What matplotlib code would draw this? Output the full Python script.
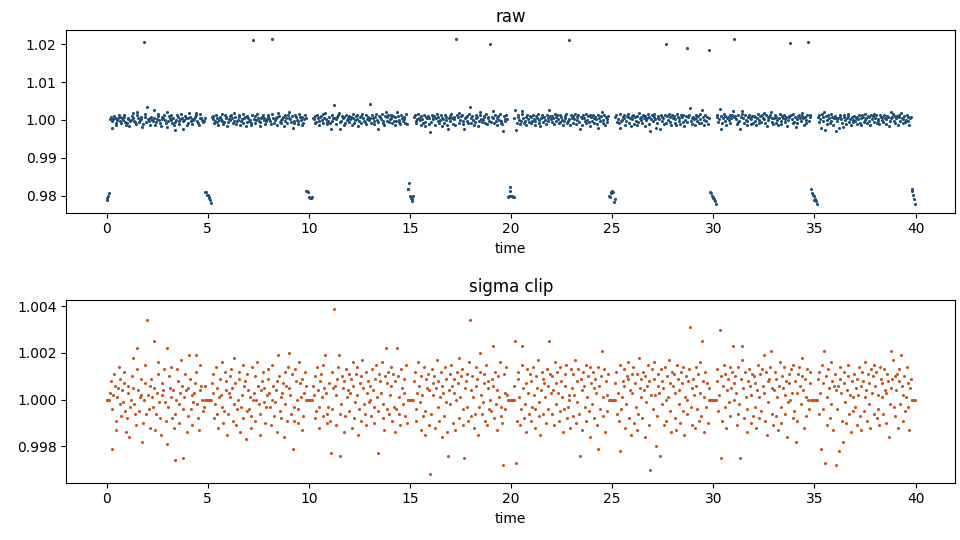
import numpy as np
import matplotlib
matplotlib.use("Agg")
import matplotlib.pyplot as plt

# sample cadence of the light curve
dt = 0.04

# base scatter around 1.0, in units of 1e-4 (one row per time unit, 25 samples each)
noise_rows = [
    [0, 0, 0, 0, 3, 8, -21, -4, 2, 11, 6, -9, -13, 1, 5, 14, 9, -2, -7, 4, -1, 12, 7, -5, -14],
    [-8, 3, 6, -16, -3, 0, 10, 18, 5, -2, -6, -11, 22, 13, 4, -5, 1, 9, 2, -18, -10, 3, 7, 15, -6],
    [34, 2, -4, -12, 6, 9, 1, -3, 25, 5, -13, -6, 3, 16, 11, -1, -8, -15, 2, 7, 4, 13, -1, -9, 22],
    [-19, -3, 10, 5, 14, 1, -8, 4, -12, -26, -6, 0, 13, 8, -2, -10, 3, 17, 6, -25, -4, 1, 11, 4, -14],
    [-7, 5, 19, 9, -4, 2, -11, -1, 3, 7, 12, 19, -2, -8, -13, 4, 15, 6, 0, -5, -3, 6, 0, 0, 0],
    [0, 0, 0, 0, 0, 7, 11, 3, -8, -2, 14, 5, -6, -12, 1, 9, 2, 16, -3, -10, -5, 12, 4, 8, -15],
    [-6, 3, 10, 1, 13, 5, -9, -2, 18, 7, -11, -4, 0, 9, 12, -14, -3, 2, -8, 15, 6, 8, -17, -5, 11],
    [4, -4, 1, -12, -7, 14, 9, 3, -9, 10, 0, 16, 6, -2, -15, -6, 4, 8, 12, -1, 5, -10, -3, 2, 13],
    [9, 3, -3, -11, 2, 15, 6, -7, -1, 4, -14, 8, 19, 10, -5, 1, -8, 3, 7, -16, -2, 12, 6, -9, 14],
    [5, 20, 2, -6, 11, -21, -9, -3, 13, 8, 0, -10, -4, 16, 7, 1, 9, -13, -7, 3, 12, 6, 0, 0, 0],
    [0, 0, 0, 0, 0, 6, 2, 10, -8, -5, 14, 4, -12, -3, 8, 11, 1, -7, 15, 5, 19, 3, -6, -10, -3],
    [7, -9, -23, -4, 12, 5, 39, 6, -11, 2, 9, 14, 19, -6, -24, -2, 10, 5, 8, -14, -7, 13, 1, 4, 11],
    [-5, 3, 9, -12, 16, 6, -8, -1, 11, 2, 14, -15, -4, 7, -9, 10, 17, 5, -2, -6, 12, -11, 3, 8, -1],
    [6, 0, -7, 13, 4, -10, -3, 9, 15, 1, -5, -23, 11, 8, 3, 16, -8, -2, -13, 10, 22, 7, -4, 12, -6],
    [2, 14, 6, -9, 11, -3, 8, -14, -4, 22, 10, -6, 1, -11, 13, 5, -2, 9, 3, -7, 15, -10, 0, 0, 0],
    [0, 0, 0, 0, 0, 8, 12, -4, -9, 3, 16, 6, -1, -13, 10, 2, -7, 14, -15, -5, 9, 5, 11, -11, 4],
    [-32, -6, 13, 7, 2, 10, -12, 5, 17, -3, 8, -9, 1, 12, -16, 6, 3, -7, 14, -1, 9, -14, -24, 4, 11],
    [-2, 15, 6, -10, 9, 3, -13, -4, 12, 7, 18, -8, 1, 10, 13, -4, -11, -25, 5, 8, -3, 11, -9, 16, 34],
    [4, -7, 10, 1, -12, -6, 14, 6, 9, -15, -3, 12, 20, 2, -6, -1, 11, 7, -9, 15, -11, 5, 8, -4, 13],
    [-5, 9, 23, 6, -8, 12, -2, 4, -13, 10, 1, 16, -7, -3, -10, -28, 11, 3, -4, 14, 2, 0, 0, 0, 0],
    [0, 0, 0, 0, 6, 25, -27, -9, 9, 12, 1, -11, -4, 15, 23, 5, -8, -2, 7, -14, 13, 3, -6, 11, -9],
    [8, -3, 14, 2, -12, -4, 10, 5, 17, -7, -1, -15, 4, 12, 9, -6, 7, 1, -10, 13, 6, -4, 25, 11, 3],
    [-6, 10, 4, -11, 16, 7, -2, 12, 3, -9, 14, -5, 8, 1, -14, -4, 11, 6, 15, -8, -3, 2, 0, -12, 13],
    [5, -7, 11, 2, 17, -10, -1, 8, 13, -6, -24, 9, 4, -13, 12, 6, -3, 15, -9, 1, 10, -5, 14, -16, 7],
    [-2, 12, 5, -8, 9, 3, -11, -21, 14, 6, -4, 10, 21, -7, 1, 13, -14, 8, 2, -5, 11, 0, 0, 0, 0],
    [0, 0, 0, 0, 7, 12, -6, 3, -9, 15, -22, -4, 1, 8, 13, 6, -12, -2, 10, 9, 16, -8, 4, -15, 11],
    [3, 14, -10, 7, -3, 11, -13, -6, 18, 5, 9, 1, -8, 12, 4, -16, 10, -1, 6, 15, -11, 8, -30, 2, 13],
    [-4, 9, 16, 2, -20, -7, 11, 6, 3, -24, 13, -2, 8, 5, -11, 14, 0, -9, 10, 1, 17, -5, 7, -14, 12],
    [6, 11, -8, 3, -13, 15, 9, -2, 4, -10, 12, 7, -5, 14, -15, 1, 10, 0, -6, 8, 13, 31, -3, 5, -11],
    [9, 2, -12, 14, 6, -4, 11, -9, 3, 16, -7, 25, 8, -14, 1, 12, -3, 7, -10, 5, 0, 0, 0, 0, 0],
    [0, 0, 0, 0, 8, 13, -5, 2, 30, -25, 10, -9, 6, 15, -3, 11, -12, 4, 9, -1, 14, -7, 5, 12, 23],
    [0, 7, 10, 3, -11, -6, 14, -2, -25, 9, 23, 17, 5, -8, 12, 1, -14, -4, 8, 13, 6, -10, 2, 11, -7],
    [10, 7, -3, -12, 4, 15, -8, 1, 11, -5, 13, 6, 19, 3, -9, 12, -15, -1, 8, 9, 14, 21, -6, 5, -11],
    [4, 12, 9, -7, 1, -13, 6, 16, -3, -10, 10, 5, 14, -6, 2, 8, -16, -1, 11, 7, 0, 13, 3, -8, 15],
    [-5, 8, -18, -9, 3, 11, 14, 6, -2, 10, 18, 4, -12, 9, -7, 1, 13, 0, -4, 12, 7, 0, 0, 0, 0],
    [0, 0, 0, 0, 9, -6, 12, 3, -21, 15, -4, 7, 21, -27, 10, 1, -11, 13, 5, -8, 16, -2, 8, -13, 6],
    [11, 4, -28, -4, 6, -22, 9, 14, 3, -9, -18, 7, 12, -1, -10, 4, 15, 10, -6, 2, -14, 8, 1, -5, 11],
    [-3, 5, 9, -11, 2, 14, -7, -13, 6, 12, 8, -5, 1, 16, 4, -9, 11, 7, -2, -12, 13, 3, 10, -6, 15],
    [6, 12, -8, 2, -4, -11, 14, 9, 1, 7, -6, 13, 4, -10, 3, 11, 8, -16, -2, 5, 21, 9, 17, -3, 10],
    [-7, 4, 11, -12, 8, 13, -2, 19, 6, -9, 2, 10, -5, 1, 14, 7, -3, -13, 5, 9, 0, 0, 0, 0, 0],
]

# dips every 5 time units: start time and raw flux of each point in the dip
dip_start = [0.0, 4.88, 9.88, 14.88, 19.84, 24.84, 29.84, 34.84, 39.80]
dip_flux = [
    [0.9789, 0.9794, 0.9798, 0.9807],
    [0.9811, 0.9809, 0.9803, 0.9801, 0.9797, 0.9794, 0.9788, 0.9781],
    [0.9812, 0.9813, 0.9810, 0.9797, 0.9795, 0.9794, 0.9795, 0.9796],
    [0.9818, 0.9819, 0.9834, 0.9800, 0.9795, 0.9787, 0.9791, 0.9798],
    [0.9797, 0.9798, 0.9823, 0.9813, 0.9798, 0.9799, 0.9797, 0.9796],
    [0.9799, 0.9797, 0.9806, 0.9811, 0.9813, 0.9809, 0.9784, 0.9790],
    [0.9811, 0.9806, 0.9800, 0.9797, 0.9795, 0.9791, 0.9786, 0.9779],
    [0.9819, 0.9807, 0.9803, 0.9800, 0.9789, 0.9792, 0.9785, 0.9777],
    [0.9819, 0.9813, 0.9801, 0.9790, 0.9778],
]

# single high outliers
outlier_t = [1.84, 7.24, 8.16, 13.04, 17.28, 18.96, 22.88, 27.64, 28.68, 29.80, 31.00, 33.80, 34.68]
outlier_flux = [1.0205, 1.0210, 1.0213, 1.0042, 1.0215, 1.0200, 1.0210,
                1.0200, 1.0191, 1.0186, 1.0213, 1.0203, 1.0205]

base = 1.0 + np.concatenate(noise_rows) * 1e-4
time = np.arange(len(base)) * dt

raw = base.copy()
clipped = np.zeros(len(base), dtype=bool)
for start, vals in zip(dip_start, dip_flux):
    i0 = int(round(start / dt))
    idx = np.arange(i0, i0 + len(vals))
    raw[idx] = vals
    clipped[idx] = True
for t_o, f_o in zip(outlier_t, outlier_flux):
    i = int(np.argmin(np.abs(time - t_o)))
    raw[i] = f_o
    clipped[i] = True

# sigma clipped copy: rejected points replaced by the median level
sigma = base.copy()
sigma[clipped] = 1.0

fig, axes = plt.subplots(2, 1, figsize=(9.6, 5.4), dpi=100)
fig.subplots_adjust(left=0.069, right=0.995, top=0.944, bottom=0.106, hspace=0.48)

axes[0].scatter(time, raw, s=5, color='#1f4e79', linewidths=0)
axes[0].set_title('raw')
axes[0].set_xlabel('time')

axes[1].scatter(time, sigma, s=5, color='#c8561e', linewidths=0)
axes[1].set_title('sigma clip')
axes[1].set_xlabel('time')

fig.savefig('out.png', dpi=100)
